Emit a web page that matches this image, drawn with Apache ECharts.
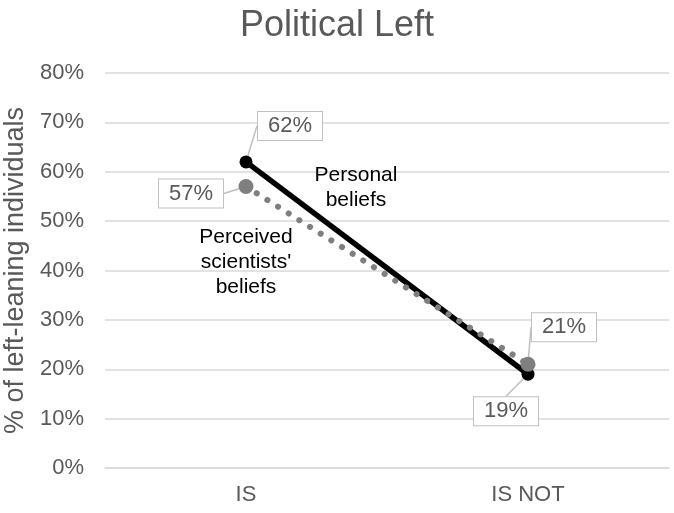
<!DOCTYPE html>
<html><head><meta charset="utf-8">
<script src="https://cdn.jsdelivr.net/npm/echarts@6/dist/echarts.min.js"></script>
<style>html,body{margin:0;padding:0;background:#fff}#c{width:674px;height:513px}</style>
</head><body><div id="c"></div>
<script>
const categories = ['IS', 'IS NOT'];
const personalBeliefs = [62, 19];
const perceivedScientists = [57, 21];
const yTicks = [0, 10, 20, 30, 40, 50, 60, 70, 80];

const chart = echarts.init(document.getElementById('c'));
const FONT = '"Liberation Sans", Arial, sans-serif';
const labelBase = {
  show: true,
  formatter: p => p.value + '%',
  color: '#595959',
  fontSize: 22,
  fontFamily: FONT,
  backgroundColor: '#fff',
  borderColor: '#bfbfbf',
  borderWidth: 1,
  padding: [3, 10]
};
function layoutFor(offsets) {
  return function (params) {
    const r = params.rect;
    const o = offsets[params.dataIndex];
    return { x: r.x + r.width / 2 + o[0], y: r.y + r.height / 2 + o[1], align: 'center', verticalAlign: 'middle' };
  };
}
chart.setOption({
  animation: false,
  title: {
    text: 'Political Left', left: 'center', top: 3,
    textStyle: { color: '#595959', fontSize: 36, fontWeight: 'normal', fontFamily: FONT }
  },
  grid: { left: 105, right: 5, top: 73, bottom: 45, containLabel: false, outerBoundsMode: 'none' },
  xAxis: {
    type: 'category', data: categories, boundaryGap: true,
    axisLine: { lineStyle: { color: '#d9d9d9', width: 1.5 } },
    axisTick: { show: false },
    axisLabel: { color: '#595959', fontSize: 22, fontFamily: FONT, margin: 16 }
  },
  yAxis: {
    type: 'value', min: 0, max: 80, interval: 10,
    name: '% of left-leaning individuals', nameLocation: 'middle', nameGap: 76,
    nameTextStyle: { color: '#595959', fontSize: 27, fontFamily: FONT },
    axisLine: { show: false }, axisTick: { show: false },
    splitLine: { lineStyle: { color: '#d9d9d9', width: 1.5 } },
    axisLabel: { color: '#595959', fontSize: 22, fontFamily: FONT, margin: 21,
      formatter: v => yTicks.includes(v) ? v + '%' : '' }
  },
  series: [
    {
      name: 'Personal beliefs', type: 'line', data: personalBeliefs,
      symbol: 'circle', symbolSize: 13,
      itemStyle: { color: '#000' },
      lineStyle: { color: '#000', width: 5.5 },
      label: labelBase,
      labelLine: { show: true, lineStyle: { color: '#bfbfbf', width: 1.5 } },
      labelLayout: layoutFor([[44, -36], [-22, 37]]),
      z: 2
    },
    {
      name: "Perceived scientists' beliefs", type: 'line', data: perceivedScientists,
      symbol: 'circle', symbolSize: 15,
      itemStyle: { color: '#7f7f7f' },
      lineStyle: { color: '#7f7f7f', width: 6, type: [0.1, 12.5], cap: 'round' },
      label: labelBase,
      labelLine: { show: true, lineStyle: { color: '#bfbfbf', width: 1.5 } },
      labelLayout: layoutFor([[-55, 7], [36, -37]]),
      z: 3
    }
  ],
  graphic: [
    { type: 'text', x: 356, y: 188, style: { text: 'Personal\nbeliefs', fill: '#000', font: '21px ' + FONT, align: 'center', verticalAlign: 'middle', lineHeight: 25 }, z: 10 },
    { type: 'text', x: 246, y: 262, style: { text: "Perceived\nscientists'\nbeliefs", fill: '#000', font: '21px ' + FONT, align: 'center', verticalAlign: 'middle', lineHeight: 25 }, z: 10 }
  ]
});
</script></body></html>
